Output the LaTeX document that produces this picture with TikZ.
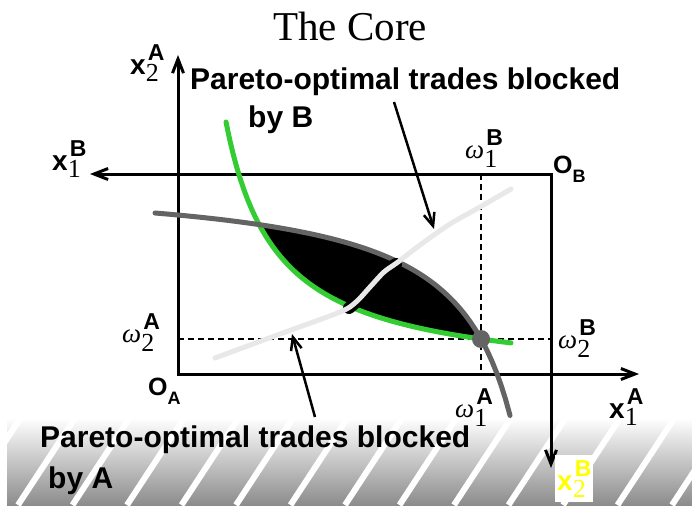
\documentclass[tikz,border=0pt]{standalone}
\usepackage{fontspec}
\setmainfont{Liberation Serif}
\setsansfont{Liberation Sans}
\usepackage{tikz}
\usetikzlibrary{arrows.meta}

\definecolor{icgreen}{RGB}{51,204,51}
\definecolor{icgray}{RGB}{100,100,100}
\definecolor{ccgray}{RGB}{232,232,232}
\definecolor{bandgray}{RGB}{140,140,140}
\definecolor{labyellow}{RGB}{255,255,0}

\newcommand{\xlab}[2]{{\fontsize{28}{28}\selectfont\sffamily\bfseries x}\rlap{\raisebox{-7pt}{\fontsize{26}{26}\selectfont\rmfamily\mdseries #1}}\raisebox{14pt}{\kern2pt\fontsize{23}{23}\selectfont\sffamily\bfseries #2}}
\newcommand{\wlab}[2]{{\fontsize{27}{27}\selectfont\rmfamily\itshape ω}\rlap{\raisebox{-9pt}{\fontsize{26}{26}\selectfont\rmfamily\upshape #1}}\raisebox{13pt}{\kern2pt\fontsize{23}{23}\selectfont\sffamily\bfseries\upshape #2}}
\newcommand{\olab}[1]{{\fontsize{25}{25}\selectfont\sffamily\bfseries O}\raisebox{-9pt}{\fontsize{18}{18}\selectfont\sffamily\bfseries #1}}

\tikzset{
    axis/.style={line width=3pt, {Straight Barb[length=14pt,width=11pt]}-{Straight Barb[length=14pt,width=11pt]}},
    guide/.style={line width=1.6pt, dash pattern=on 6pt off 4pt},
    pointer/.style={line width=2.5pt, -{Straight Barb[length=13pt,width=11pt]}},
    lab/.style={anchor=base west, inner sep=0pt},
    note/.style={anchor=base west, inner sep=0pt, font=\fontsize{30}{30}\selectfont\sffamily\bfseries},
    cc/.style={ccgray, line width=5pt, line cap=round}
}

\begin{document}
\begin{tikzpicture}[x=1pt,y=-1pt]
\useasboundingbox (0,0) rectangle (692,507);

\shade[top color=white, bottom color=bandgray] (7,418) rectangle (692,505);
\begin{scope}
\clip (7,418) rectangle (692,505);
\foreach \k in {-1,...,12}
    \draw[white, line width=6pt] ({18+54.5*\k},505) -- ++(57,-87);
\end{scope}

\node (title) [anchor=base] at (350,40) {\fontsize{41}{41}\selectfont The Core};

\coordinate (oa) at (178,374);
\coordinate (ob) at (551,174);
\coordinate (a1tip) at (639,374);
\coordinate (a2tip) at (178,55);
\coordinate (b1tip) at (90,174);
\coordinate (b2tip) at (551,468);
\coordinate (endow) at (481,339);

\draw[guide] (endow |- ob) -- (endow |- oa);
\draw[guide] (endow -| oa) -- (endow -| ob);

\draw[axis] (a2tip) -- (oa) -- (a1tip);
\draw[axis] (b1tip) -- (ob) -- (b2tip);

\fill plot[domain=259.2:481,samples=50] (\x,{382.4-13280/(\x-175)})
    -- plot[domain=481:259.2,samples=50] (\x,{178.2+14471/(571-\x)}) -- cycle;
\draw[icgreen, line width=5pt, line cap=round]
    plot[domain=226:511,samples=80] (\x,{382.4-13280/(\x-175)});
\draw[icgray, line width=5pt, line cap=round]
    plot[domain=155:510,samples=80] (\x,{178.2+14471/(571-\x)});

\draw[line width=12pt, line cap=round] plot[smooth] coordinates {(349,308) (356,302) (370,287) (384,272) (396,264)};
\draw[cc] plot[smooth] coordinates {(215,358) (280,334) (340,312) (356,302) (370,287) (384,272) (398,262) (420,245) (450,224) (480,207) (511,189)};

\fill[icgray] (endow) circle (9pt);

\node (xa2) [lab] at (130,74) {\xlab{2}{A}};
\node (xb1) [lab] at (52,170) {\xlab{1}{B}};
\node (wb1) [lab] at (465,158) {\wlab{1}{B}};
\node (obl) [lab] at (553,173) {\olab{B}};
\node (wa2) [lab] at (122,342) {\wlab{2}{A}};
\node (oal) [lab] at (148,395) {\olab{A}};
\node (wa1) [lab] at (455,417) {\wlab{1}{A}};
\node (xa1) [lab] at (609,418) {\xlab{1}{A}};
\node (wb2) [lab] at (558,348) {\wlab{2}{B}};
\fill[white] (555,455) rectangle (593,502);
\node (xb2) [lab, text=labyellow] at (557,490) {\xlab{2}{B}};

\node (blockb) [note] at (190,89) {Pareto-optimal trades blocked};
\node (blockbb) [note] at (248,127) {by B};
\node (blocka) [note] at (40,447) {Pareto-optimal trades blocked};
\node (blockaa) [note] at (48,488) {by A};

\coordinate (pb1) at (394,102);
\coordinate (pb2) at (434,229);
\coordinate (pa1) at (315,417);
\coordinate (pa2) at (292,334);
\draw[pointer] (pb1) -- (pb2);
\draw[pointer] (pa1) -- (pa2);
\end{tikzpicture}
\end{document}
